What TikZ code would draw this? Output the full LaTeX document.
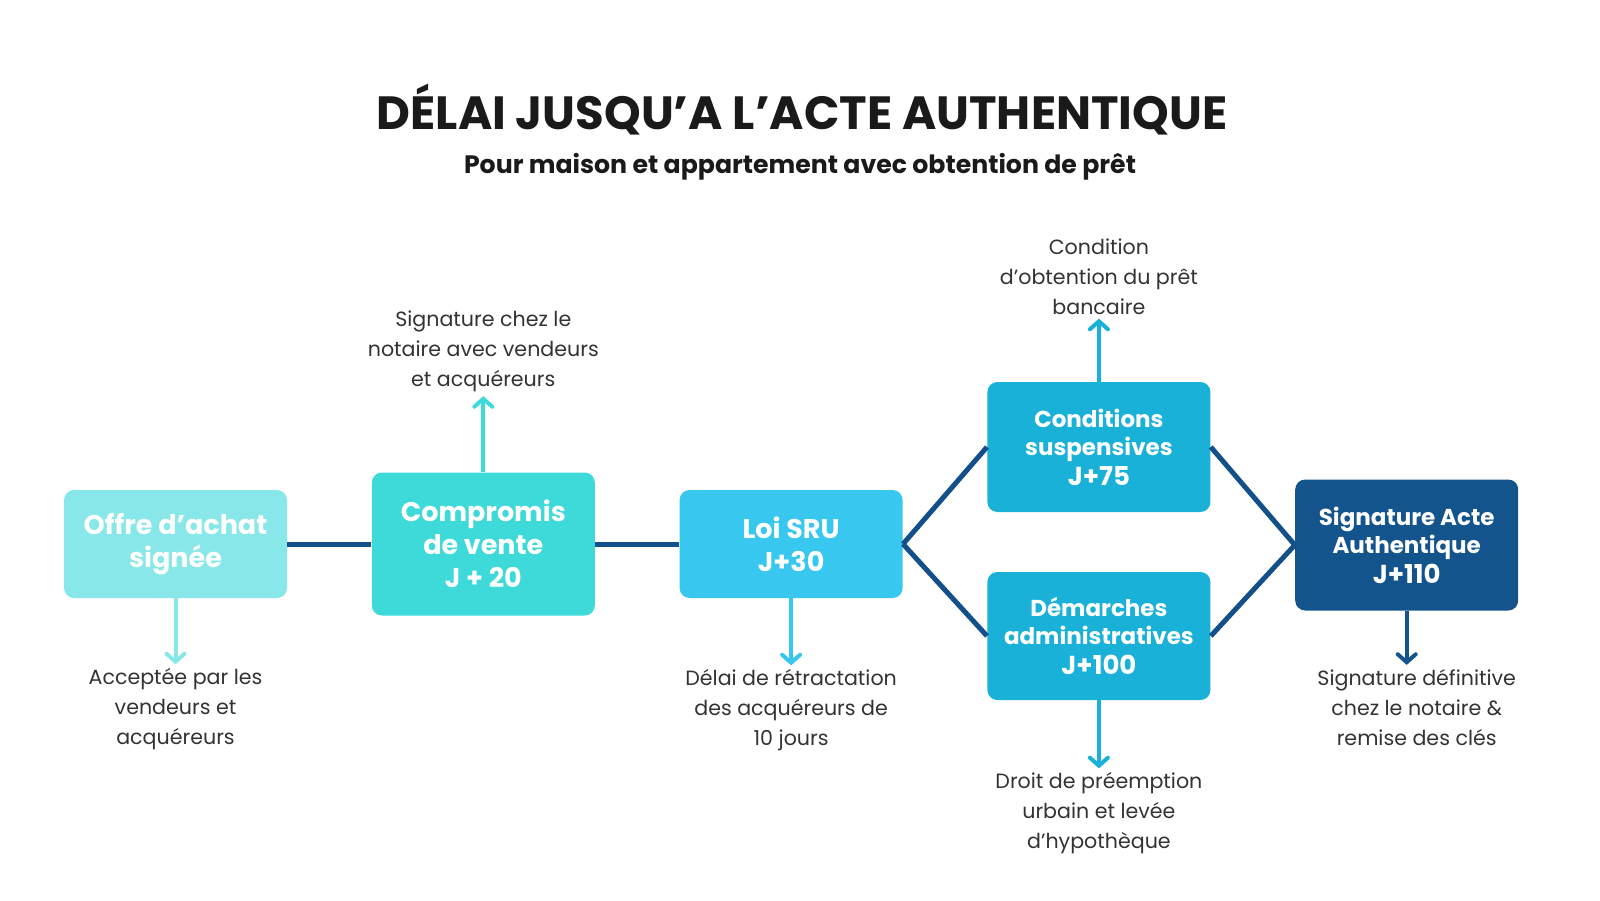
\documentclass[tikz,border=0pt]{standalone}
\usepackage{fontspec}
\setmainfont{Poppins}
\usepackage{tikz}
\usetikzlibrary{arrows.meta}
\usetikzlibrary{positioning}
\definecolor{offrecol}{HTML}{88E7E9}
\definecolor{compcol}{HTML}{3ED9D9}
\definecolor{loicol}{HTML}{38C8EF}
\definecolor{condcol}{HTML}{19B1D8}
\definecolor{sigcol}{HTML}{14548C}
\definecolor{linkcol}{HTML}{13508A}
\definecolor{txtcol}{HTML}{333333}
\definecolor{titlecol}{HTML}{1A1A1A}
\tikzset{stage/.style={rounded corners=5pt, text=white, align=center, minimum width=111.5pt, inner sep=2pt}}
\tikzset{big/.style={font=\fontsize{13.5}{16.5}\selectfont\bfseries}}
\tikzset{small/.style={font=\fontsize{11.5}{14}\selectfont\bfseries}}
\tikzset{note/.style={align=center, text=txtcol, inner sep=2pt, font=\fontsize{10.3}{15}\selectfont}}
\tikzset{link/.style={draw=linkcol, line width=2.5pt}}
\tikzset{tip/.style={-{Straight Barb[length=4pt,width=9pt,line cap=round]}, line width=2pt}}
\newcommand{\jday}[1]{{\fontsize{13}{16}\selectfont #1}}

\begin{document}
\begin{tikzpicture}[x=0.5pt,y=-0.5pt,node distance=42pt]
   \useasboundingbox (0,0) rectangle (1600,900);

   \node[text=titlecol, font=\fontsize{23.3}{27}\selectfont\bfseries] (title) at (802,110) {DÉLAI JUSQU’A L’ACTE AUTHENTIQUE};
   \node[text=titlecol, font=\fontsize{12.6}{15}\selectfont\bfseries] (subtitle) at (800,167) {Pour maison et appartement avec obtention de prêt};

   \node[stage, big, fill=offrecol, minimum height=54pt] (offre) at (175.5,544) {Offre d’achat\\signée};
   \node[stage, big, fill=compcol, minimum height=71.5pt] (comp) [right=of offre] {Compromis\\de vente\\J + 20};
   \node[stage, big, fill=loicol, minimum height=54pt] (loi) [right=of comp] {Loi SRU\\J+30};
   \node[stage, small, fill=condcol, minimum height=65pt] (cond) [right=of loi,yshift=48.5pt] {Conditions\\suspensives\\[1pt]\jday{J+75}};
   \node[stage, small, fill=condcol, minimum height=64pt] (dem) [right=of loi,yshift=-46pt] {Démarches\\administratives\\[1pt]\jday{J+100}};
   \node[stage, small, fill=sigcol, minimum height=65.5pt] (sig) [right=of cond,yshift=-49pt] {Signature Acte\\Authentique\\[1pt]\jday{J+110}};

   \node[note] (offrelab) [below=33pt of offre] {Acceptée par les\\vendeurs et\\acquéreurs};
   \node[note] (complab) [above=38pt of comp] {Signature chez le\\notaire avec vendeurs\\et acquéreurs};
   \node[note] (loilab) [below=33.5pt of loi] {Délai de rétractation\\des acquéreurs de\\10 jours};
   \node[note] (condlab) [above=31.5pt of cond] {Condition\\d’obtention du prêt\\bancaire};
   \node[note] (demlab) [below=34pt of dem] {Droit de préemption\\urbain et levée\\d’hypothèque};
   \node[note] (siglab) [below=27pt of sig,xshift=5pt] {Signature définitive\\chez le notaire \&\\remise des clés};

   \path[link]
      (offre) edge (comp)
      (comp) edge (loi)
      (loi.east) edge (cond.west)
      (loi.east) edge (dem.west)
      (cond.east) edge (sig.west)
      (dem.east) edge (sig.west);

   \draw[tip, offrecol] (offre) -- (offrelab);
   \draw[tip, compcol] (comp) -- (complab);
   \draw[tip, loicol] (loi) -- (loilab);
   \draw[tip, condcol] (cond) -- (condlab);
   \draw[tip, condcol] (dem) -- (demlab);
   \draw[tip, sigcol] (sig.south) -- (sig.south |- siglab.north);
\end{tikzpicture}
\end{document}
